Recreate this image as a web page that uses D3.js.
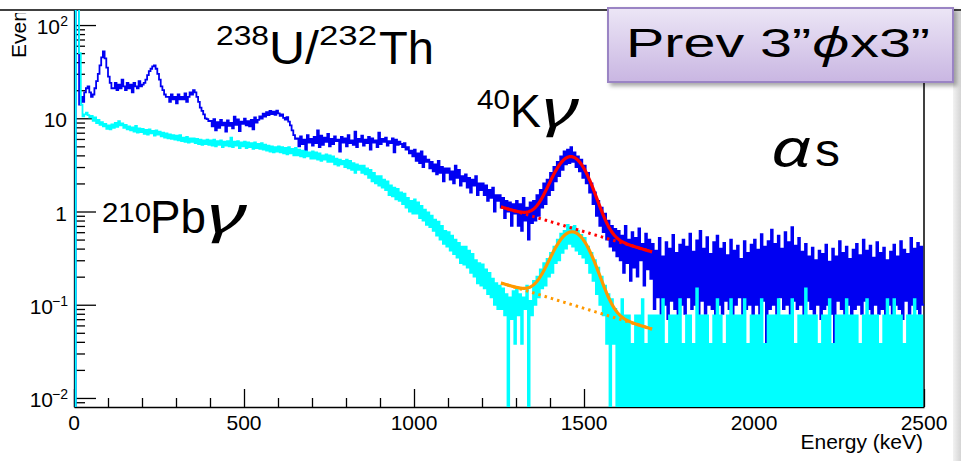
<!DOCTYPE html>
<html>
<head>
<meta charset="utf-8">
<script src="https://cdn.jsdelivr.net/npm/d3@7"></script>
<style>
  html, body { margin: 0; padding: 0; background: #fff; }
  svg { display: block; }
  text { font-family: "Liberation Sans", Arial, Helvetica, sans-serif; fill: #000; }
</style>
</head>
<body>
<svg id="chart" width="961" height="461"></svg>
<script>
// ---- Spectrum data: counts per 5 keV bin (normalised rate) ----
const binWidth = 5;

// Upper spectrum (blue)
const blueLow = [ // 0 - 400 keV
  0,300,150,14,17,15,19,21,22,19,17,18,21,25,30,37,45,52,44,35,28,24,21,
  21,24,20,23,21,26,22,20,24,21,23,19,24,22,21,25,22,23,24,
  26,29,32,34,36,37,34,30,26,22,20,18,17,
  17,15,18,16,17,14.5,18,16,17,16,18.5,15,17,19,18,20,
  19,17,15,13,12,11,10,9.8,9.3
];
const blueMid = [ // 400 - 1000 keV
  9.4,8.2,9.8,7.4,9.1,7.9,9.6,8.4,9.0,7.2,
  9.5,8.3,8.9,7.8,10.4,8.5,9.7,7.3,9.2,8.7,
  9.9,8.4,9.3,8.2,9.6,7.6,10.2,9.0,
  9.6,10.5,9.9,11.2,10.4,11.6,10.8,12.0,11.1,11.8,10.9,12.1,11.3,10.6,11.0,10.1,9.7,10.3,9.2,8.4,
  7.4,6.6,6.0,
  6.1,5.0,6.4,5.3,5.9,4.5,6.6,5.5,6.0,5.1,
  6.3,5.4,7.4,4.9,6.5,5.2,6.2,5.6,6.8,5.0,
  6.0,5.3,6.4,5.7,5.9,4.4,6.3,5.5,6.1,5.0,
  6.6,5.4,5.8,5.2,7.2,4.9,6.0,5.6,6.5,5.1,
  5.9,5.4,6.3,4.6,6.1,5.5,5.8,4.9,7.0,5.3,
  6.0,5.6,6.2,5.1,5.7,5.4,6.1,4.3,5.9,5.2,
  5.6,
  5.3,4.9,5.4,4.6,4.9,4.2,4.5,3.9
];
const blueK = [ // 1000 - 1700 keV
  4.6,3.5,4.2,3.3,4.4,3.0,3.9,3.4,3.6,2.9,
  3.4,2.7,3.2,2.5,3.5,2.6,3.0,2.1,2.9,2.6,
  2.9,2.2,2.7,2.0,3.1,2.3,2.8,1.9,2.4,2.1,
  2.5,1.8,2.3,1.6,2.2,1.9,2.4,1.5,2.0,1.7,
  2.0,1.5,1.9,1.3,1.7,1.4,1.8,1.0,1.5,1.3,
  1.5,1.1,1.4,0.85,1.3,1.0,1.25,0.7,1.2,0.95,
  1.3,0.7,1.2,0.62,1.4,0.8,1.1,0.5,1.25,0.75,
  1.3,0.8,1.5,0.9,1.7,1.1,2.0,1.2,2.2,1.5,
  2.6,1.7,3.0,2.1,3.4,2.4,3.9,2.8,4.4,3.2,
  4.6,3.3,4.9,3.4,4.3,3.0,3.9,2.7,3.6,2.3,
  3.1,2.0,2.6,1.6,2.0,1.2,1.6,0.9,1.3,0.7,
  1.1,0.6,0.95,0.5,0.8,0.42,0.7,0.38,0.65,0.33,
  0.62,0.3,0.55,0.22,0.7,0.28,0.5,0.18,0.6,0.25,
  0.52,0.2,0.66,0.3,0.45,0.16,0.58,0.24,0.5,0.19
];
const blueHigh = [ // 1700 - 2500 keV
  0.45,0.09,0.38,0.12,0.52,0.08,0.33,0.1,0.47,0.07,0.4,0.11,0.56,0.09,0.36,0,0.44,0.1,0.5,0.08,
  0.42,0.12,0.58,0.09,0.37,0.1,0.49,0.07,0.62,0.11,0.4,0.08,0.53,0.1,0.35,0.09,0.47,0,0.55,0.1,
  0.4,0.08,0.46,0.11,0.34,0.09,0.5,0.07,0.38,0.1,0.43,0.12,0.31,0.08,0.48,0.09,0.36,0.1,0.44,0.07,
  0.5,0.1,0.39,0.08,0.57,0.11,0.42,0,0.48,0.09,0.64,0.1,0.45,0.08,0.55,0.12,0.4,0.09,0.6,0.1,
  0.47,0.08,0.68,0.11,0.43,0.09,0.52,0.1,0.37,0.07,0.45,0.11,0.33,0.09,0.41,0.08,0.3,0.1,0.38,0.07,
  0.35,0.09,0.44,0.1,0.29,0.08,0.4,0,0.33,0.11,0.48,0.09,0.36,0.08,0.42,0.1,0.31,0.07,0.39,0.09,
  0.45,0.1,0.34,0.08,0.5,0.11,0.38,0.09,0.43,0.07,0.32,0.1,0.47,0.08,0.36,0.09,0.41,0,0.3,0.1,
  0.37,0.08,0.44,0.1,0.33,0.09,0.48,0.07,0.39,0.11,0.35,0.08,0.52,0.1,0.4,0.09,0.46,0.08,0.42,0.1
];

// Lower spectrum (cyan)
const cyanLow = [ // 0 - 400 keV
  0,400,150,50,14,10.5,11,11.5,10.8,10.2,
  10.6,9.4,10.2,8.9,9.6,8.5,9.1,8.2,8.7,7.7,
  8.4,7.6,8.6,7.9,8.9,8.1,9.3,8.4,8.8,7.9,
  8.5,7.6,8.2,7.4,8.0,7.2,8.3,7.0,7.8,7.1,
  7.7,6.8,7.5,6.7,7.6,6.9,7.3,6.5,7.4,6.7,
  7.2,6.4,7.0,6.2,6.9,6.1,6.7,6.0,6.6,5.9,
  6.5,5.8,6.6,5.7,6.2,5.6,6.3,5.5,6.1,5.6,
  6.1,5.4,6.0,5.3,5.9,5.2,5.8,5.3,5.9,5.2
];
const cyanMid = [ // 400 - 1000 keV
  5.8,5.1,5.9,5.0,5.7,5.2,5.8,4.9,5.6,5.1,
  5.7,5.0,6.2,4.9,5.6,5.1,5.7,4.8,5.5,5.0,
  5.6,4.8,5.5,4.9,5.4,4.7,5.5,4.8,5.3,4.7,
  5.4,4.6,5.2,4.5,5.1,4.4,5.0,4.3,4.9,4.4,
  5.0,4.3,4.9,4.2,4.8,4.1,4.9,4.2,4.7,4.0,
  4.8,4.0,4.6,3.9,4.5,3.8,4.4,3.9,4.3,3.7,
  4.4,3.7,4.3,3.6,4.2,3.5,4.0,3.6,4.1,3.4,
  4.0,3.4,3.9,3.2,3.7,3.1,3.6,3.2,3.5,3.0,
  3.6,2.9,3.5,2.8,3.3,2.6,3.2,2.8,3.1,2.6,
  3.1,2.5,2.9,2.3,2.8,2.1,2.6,2.0,2.4,1.9,
  2.4,1.8,2.2,1.7,2.1,1.5,1.9,1.45,1.8,1.35,
  1.75,1.3,1.6,1.2,1.55,1.1,1.4,1.0,1.3,0.95
];
const cyanK = [ // 1000 - 1700 keV
  1.35,0.95,1.25,0.85,1.15,0.8,1.05,0.72,0.98,0.68,
  0.9,0.62,0.82,0.55,0.78,0.5,0.7,0.45,0.62,0.42,
  0.6,0.38,0.55,0.35,0.5,0.32,0.46,0.28,0.42,0.27,
  0.42,0.25,0.38,0.22,0.35,0.2,0.3,0.17,0.28,0.16,
  0.27,0.15,0.24,0.13,0.22,0.12,0.19,0.1,0.17,0.09,
  0.16,0.09,0.15,0.077,0.13,0,0.12,0.07,0.14,0.038,
  0.15,0.077,0.13,0.038,0.12,0.09,0.16,0,0.11,0.077,
  0.18,0.1,0.2,0.12,0.24,0.15,0.28,0.16,0.31,0.2,
  0.36,0.22,0.42,0.28,0.5,0.3,0.58,0.36,0.62,0.4,
  0.72,0.45,0.68,0.42,0.7,0.38,0.62,0.35,0.56,0.32,
  0.52,0.28,0.42,0.22,0.36,0.18,0.3,0.13,0.25,0.1,
  0.2,0.077,0.16,0.038,0.13,0,0.115,0.038,0.09,0,
  0.077,0,0.115,0,0.077,0,0.077,0,0.038,0,
  0.077,0,0.077,0,0.115,0,0.038,0,0.077,0
];
const cyanHigh = [ // 1700 - 2500 keV
  0.077,0,0.077,0,0.077,0,0.115,0,0.038,0,0.077,0,0.077,0,0.077,0,0.115,0,0.038,0,
  0.077,0,0.077,0,0.038,0,0.15,0,0.077,0,0.077,0,0.077,0,0.038,0,0.077,0,0.115,0,
  0.077,0,0.038,0,0.077,0,0.115,0,0.077,0,0.077,0,0.077,0,0.115,0,0.038,0,0.077,0,
  0.077,0,0.077,0,0.115,0,0.038,0,0.077,0,0.077,0,0.077,0,0.115,0,0.077,0,0.077,0,
  0.077,0,0.115,0,0.038,0,0.077,0,0.077,0,0.15,0,0.077,0,0.077,0,0.077,0,0.038,0,
  0.077,0,0.077,0,0.115,0,0.038,0,0.077,0,0.077,0,0.077,0,0.115,0,0.077,0,0.077,0,
  0.077,0,0.038,0,0.077,0,0.115,0,0.077,0,0.077,0,0.077,0,0.038,0,0.077,0,0.115,0,
  0.077,0,0.115,0,0.077,0,0.077,0,0.038,0,0.077,0,0.077,0,0.115,0,0.077,0,0.077,0
];

const segmentStarts = [0, 400, 1000, 1700]; // keV

// ---- 40K peak fits: exponential background + gaussian ----
const redFitRange = [1256, 1700];    // keV
const redFitBg = [1.12, 0.369];      // background at range ends
const redFitPeak = [3.21, 1462, 46]; // amplitude, mean, sigma
const orangeFitRange = [1256, 1700];
const orangeFitBg = [0.171, 0.0548];
const orangeFitPeak = [0.506, 1466, 48];

// ---- Axis ticks ----
const xMajorTicks = [0, 500, 1000, 1500, 2000, 2500];
const xMinorTicks = [100,200,300,400,600,700,800,900,1100,1200,1300,1400,1600,1700,1800,1900,2100,2200,2300,2400];
const yMajorTicks = [0.01, 0.1, 1, 10, 100];
const yTickLabels = [["10","\u22122"],["10","\u22121"],["1",""],["10",""],["10","2"]];

// ---- Layout ----
const plot = { left: 74, right: 924, top: 10, bottom: 407 };
const svg = d3.select("#chart");

const x = d3.scaleLinear().domain([0, 2500]).range([plot.left, plot.right]);
const y = d3.scaleLog().domain([0.008, 145]).range([plot.bottom, plot.top]);

const yMinorTicks = [];
[-3, -2, -1, 0, 1, 2].forEach(p => {
  for (let k = 2; k <= 9; k++) {
    const v = k * Math.pow(10, p);
    if (v > 0.008 && v < 145) yMinorTicks.push(v);
  }
});

const defs = svg.append("defs");
defs.append("clipPath").attr("id", "plotClip")
  .append("rect")
  .attr("x", plot.left).attr("y", plot.top)
  .attr("width", plot.right - plot.left).attr("height", plot.bottom - plot.top);
defs.append("clipPath").attr("id", "titleClip")
  .append("rect").attr("x", 0).attr("y", 13).attr("width", 70).attr("height", 440);

const boxGrad = defs.append("linearGradient").attr("id", "boxGrad")
  .attr("x1", 0).attr("y1", 0).attr("x2", 0).attr("y2", 1);
boxGrad.append("stop").attr("offset", "0%").attr("stop-color", "#ece6f6");
boxGrad.append("stop").attr("offset", "100%").attr("stop-color", "#c9b6e2");

const edgeGrad = defs.append("linearGradient").attr("id", "edgeGrad")
  .attr("x1", 0).attr("y1", 0).attr("x2", 1).attr("y2", 0);
edgeGrad.append("stop").attr("offset", "0%").attr("stop-color", "#f2f2f2");
edgeGrad.append("stop").attr("offset", "100%").attr("stop-color", "#d4d4d4");

const shadow = defs.append("filter").attr("id", "boxShadow")
  .attr("x", "-10%").attr("y", "-10%").attr("width", "130%").attr("height", "140%");
shadow.append("feDropShadow").attr("dx", 3).attr("dy", 3).attr("stdDeviation", 2)
  .attr("flood-color", "#000").attr("flood-opacity", 0.35);

// page edge shading on the right
svg.append("rect").attr("x", 953).attr("y", 11).attr("width", 8).attr("height", 450)
  .attr("fill", "url(#edgeGrad)");

// ---- Axes ----
const axisStyle = g => g.selectAll("line,path").attr("stroke", "#000").attr("stroke-width", 1.3);

svg.append("g").attr("transform", `translate(0,${plot.bottom})`)
  .call(d3.axisTop(x).tickValues(xMajorTicks).tickSize(18).tickSizeOuter(0).tickFormat(""))
  .call(axisStyle);
svg.append("g").attr("transform", `translate(0,${plot.bottom})`)
  .call(d3.axisTop(x).tickValues(xMinorTicks).tickSize(9).tickFormat(""))
  .call(g => g.select(".domain").remove())
  .call(axisStyle);

svg.append("g").attr("transform", `translate(${plot.left},0)`)
  .call(d3.axisRight(y).tickValues(yMajorTicks).tickSize(22).tickSizeOuter(0).tickFormat(""))
  .call(axisStyle);
svg.append("g").attr("transform", `translate(${plot.left},0)`)
  .call(d3.axisRight(y).tickValues(yMinorTicks).tickSize(11).tickFormat(""))
  .call(g => g.select(".domain").remove())
  .call(axisStyle);

// frame: right side and top rule
svg.append("line").attr("x1", plot.right).attr("x2", plot.right)
  .attr("y1", plot.top).attr("y2", plot.bottom).attr("stroke", "#000").attr("stroke-width", 1.5);
svg.append("line").attr("x1", 0).attr("x2", 961)
  .attr("y1", plot.top).attr("y2", plot.top).attr("stroke", "#000").attr("stroke-width", 1.5);

// ---- Histograms ----
function toBins(segments) {
  const bins = [];
  segments.forEach((arr, s) => {
    arr.forEach((v, i) => bins.push({ e: segmentStarts[s] + i * binWidth, v }));
  });
  const last = bins[bins.length - 1];
  bins.push({ e: last.e + binWidth, v: last.v });
  return bins;
}
const yVal = v => (v > 0 ? y(v) : plot.bottom + 3);
const stepLine = d3.line().x(d => x(d.e)).y(d => yVal(d.v)).curve(d3.curveStepAfter);

const plotG = svg.append("g").attr("clip-path", "url(#plotClip)");

plotG.append("path")
  .datum(toBins([blueLow, blueMid, blueK, blueHigh]))
  .attr("d", stepLine)
  .attr("fill", "none").attr("stroke", "#0000f2").attr("stroke-width", 1.8);

plotG.append("path")
  .datum(toBins([cyanLow, cyanMid, cyanK, cyanHigh]))
  .attr("d", stepLine)
  .attr("fill", "none").attr("stroke", "#00ffff").attr("stroke-width", 1.8);

// ---- Fit curves ----
function fitCurves(range, bg, peak) {
  const slope = Math.log10(bg[1] / bg[0]) / (range[1] - range[0]);
  const bgAt = e => bg[0] * Math.pow(10, slope * (e - range[0]));
  const es = d3.range(range[0], range[1] + 0.1, 2);
  const background = es.map(e => ({ e, v: bgAt(e) }));
  const total = es.map(e => ({
    e, v: bgAt(e) + peak[0] * Math.exp(-((e - peak[1]) ** 2) / (2 * peak[2] ** 2))
  }));
  return { background, total };
}
const smoothLine = d3.line().x(d => x(d.e)).y(d => y(d.v));

[[redFitRange, redFitBg, redFitPeak, "#ff0000"],
 [orangeFitRange, orangeFitBg, orangeFitPeak, "#ff9900"]].forEach(([r, b, p, c]) => {
  const f = fitCurves(r, b, p);
  plotG.append("path").datum(f.background).attr("d", smoothLine)
    .attr("fill", "none").attr("stroke", c).attr("stroke-width", 3)
    .attr("stroke-dasharray", "2.5,4");
  plotG.append("path").datum(f.total).attr("d", smoothLine)
    .attr("fill", "none").attr("stroke", c).attr("stroke-width", 3.2)
    .attr("stroke-linejoin", "round");
});

// ---- Tick labels ----
const yLab = svg.append("g");
yMajorTicks.forEach((v, i) => {
  const [base, exp] = yTickLabels[i];
  yLab.append("text")
    .attr("x", exp ? 67 - (exp.length > 1 ? 14 : 7) : 67)
    .attr("y", y(v) + 9)
    .attr("text-anchor", "end")
    .attr("font-size", 21)
    .text(base);
  if (exp) {
    yLab.append("text")
      .attr("x", 68).attr("y", y(v) + 1)
      .attr("text-anchor", "end")
      .attr("font-size", 14)
      .text(exp);
  }
});

svg.append("g").selectAll("text").data(xMajorTicks).join("text")
  .attr("x", d => x(d)).attr("y", 430)
  .attr("text-anchor", "middle").attr("font-size", 21)
  .text(d => d);

// axis titles
svg.append("text").attr("x", 923).attr("y", 449)
  .attr("text-anchor", "end").attr("font-size", 21)
  .text("Energy (keV)");
svg.append("g").attr("clip-path", "url(#titleClip)")
  .append("text")
  .attr("transform", "translate(26,58) rotate(-90)")
  .attr("text-anchor", "start").attr("font-size", 21)
  .text("Events");

// ---- Annotations: [text, left, width, baseline, size, greek] ----
const greekFont = "'Noto Sans', 'DejaVu Sans', sans-serif";
function annot(parts) {
  const t = svg.append("text");
  parts.forEach(([str, x0, w, base, size, greek]) => {
    const s = t.append("tspan")
      .attr("x", x0).attr("y", base)
      .attr("font-size", size)
      .attr("textLength", w).attr("lengthAdjust", "spacingAndGlyphs")
      .text(str);
    if (greek) s.style("font-family", greekFont).attr("font-style", "italic");
  });
}
annot([["238", 216, 53, 45, 28], ["U/", 269, 50, 64, 46], ["232", 319, 58, 45, 28], ["Th", 379, 55, 64, 46]]);
annot([["40", 477, 33, 109, 28], ["K", 510, 31, 127, 46], ["\u03b3", 542, 37, 127, 52, true]]);
annot([["\u03b1", 771, 40, 166, 52, true], ["s", 815, 25, 166, 46]]);
annot([["210", 102, 49, 222, 28], ["Pb", 150, 56, 233, 46], ["\u03b3", 207, 40, 233, 52, true]]);

// ---- Detector label box ----
svg.append("rect").attr("x", 608).attr("y", 8).attr("width", 345).attr("height", 74)
  .attr("fill", "url(#boxGrad)").attr("stroke", "#9a84c4").attr("stroke-width", 2)
  .attr("filter", "url(#boxShadow)");
const boxText = svg.append("text").attr("x", 626).attr("y", 57).attr("font-size", 40)
  .attr("textLength", 304).attr("lengthAdjust", "spacingAndGlyphs");
boxText.append("tspan").text("Prev 3\u201d");
boxText.append("tspan").style("font-family", greekFont)
  .attr("font-style", "italic").text("\u03d5");
boxText.append("tspan").text("x3\u201d");
</script>
</body>
</html>
